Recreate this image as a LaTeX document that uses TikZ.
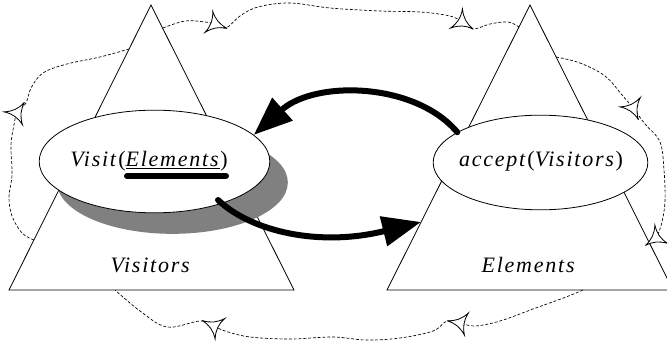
\documentclass[tikz,border=0pt]{standalone}
\usepackage{fontspec}
\setmainfont{Liberation Serif}
\newfontfamily\spaced[LetterSpace=8]{Liberation Serif}
\usetikzlibrary{arrows.meta,shapes.geometric}

\begin{document}
\begin{tikzpicture}[y=-0.75pt,x=0.75pt,
	oval/.style={ellipse, draw, fill=white, line width=0.6pt, inner sep=0pt},
	shade/.style={ellipse, fill=black!50, inner sep=0pt},
	flow/.style={line width=4.5pt, line cap=round, -{Triangle[length=29pt,width=22pt]}},
	cloud/.style={line width=0.5pt, dash pattern=on 2.2pt off 1.4pt},
	lbl/.style={font=\fontsize{16.5}{20}\spaced}]
	\newcommand\Barb[3]{\draw[fill=white, line width=0.6pt] ([shift={(#1,#2)}]#3:13) to[bend right=22] ([shift={(#1,#2)}]#3+120:13) to[bend right=22] ([shift={(#1,#2)}]#3+240:13) to[bend right=22] ([shift={(#1,#2)}]#3:13);}

	\clip (0,0) rectangle (667,349);

	% the two hierarchies
	\draw[line width=0.6pt] (151,5) -- (9,290) -- (294,290) -- cycle;
	\draw[line width=0.6pt] (530,5) -- (387,290) -- (673,290) -- cycle;

	% loose coupling
	\draw[cloud] plot[smooth, tension=0.6] coordinates {(163,28) (185,21) (205,22) (216,24) (226,28) (240,16) (258,7) (290,3) (330,8) (380,11) (420,12) (450,16) (462,22) (473,29) (490,24) (508,22) (519,27)};
	\draw[cloud] plot[smooth, tension=0.6] coordinates {(556,57) (580,63) (605,76) (622,95) (633,108) (645,124) (660,142) (664,170) (665,200) (662,222) (656,238) (649,243)};
	\draw[cloud] plot[smooth, tension=0.6] coordinates {(583,290) (566,297) (533,309) (500,321) (475,326) (460,323) (447,321) (433,331) (400,338) (366,340) (333,337) (290,339) (250,337) (225,331) (214,326) (200,321) (167,327) (140,311) (115,290)};
	\draw[cloud] plot[smooth, tension=0.6] coordinates {(34,240) (22,233) (12,216) (9,197) (12,175) (11,145) (14,125) (17,113) (26,103) (31,88) (43,73) (67,64) (100,57) (129,49)};

	\Barb{215}{24}{20}
	\Barb{462}{22}{32}
	\Barb{633}{108}{65}
	\Barb{656}{238}{145}
	\Barb{460}{323}{190}
	\Barb{214}{326}{205}
	\Barb{17}{113}{305}

	% double dispatch
	\node[shade, minimum width=173pt, minimum height=77pt] (vis-sh) at (172.5,182.5) {};
	\node[oval, minimum width=173pt, minimum height=77pt] (vis) at (154.5,161.5) {};
	\node[oval, minimum width=161pt, minimum height=71pt] (acc) at (540.5,162.5) {};
	\node[lbl] (vis-t) at (149,161) {\textit{Visit}(\underline{\textit{Elements}})};
	\node[lbl] (acc-t) at (541,161) {\textit{accept}(\textit{Visitors})};
	\draw[line width=4.5pt, line cap=round] (127,176) -- (226,176);

	\coordinate (vis-out) at (218,200);
	\coordinate (el-in) at (421,222);
	\draw[flow] (acc.160) .. controls (415,82) and (315,80) .. (vis.15);
	\draw[flow] (vis-out) .. controls (252,232) and (320,247) .. (el-in);

	\node[lbl] (vlab) at (151,265) {\textit{Visitors}};
	\node[lbl] (elab) at (529,265) {\textit{Elements}};
\end{tikzpicture}
\end{document}
